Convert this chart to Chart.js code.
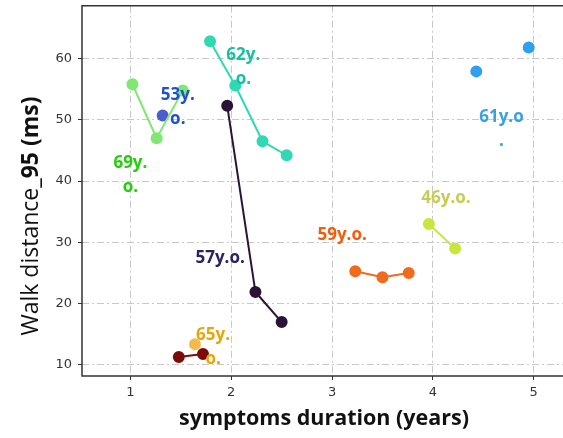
<!DOCTYPE html>
<html><head><meta charset="utf-8">
<script src="https://cdn.jsdelivr.net/npm/chart.js@4"></script>
<style>html,body{margin:0;padding:0;background:#fff;overflow:hidden}#wrap{width:563px;height:438px;overflow:hidden;position:relative}#c{position:absolute;left:0;top:-8px}</style>
</head><body><div id="wrap"><canvas id="c" width="572" height="446"></canvas></div>
<script>
// series: symptoms duration (years) and Walk distance_95 (ms)
const s69x = [1.02, 1.26, 1.52];  const s69y = [55.8, 47.0, 54.8];
const s53x = [1.32];              const s53y = [50.7];
const s62x = [1.79, 2.04, 2.31, 2.55]; const s62y = [62.8, 55.6, 46.5, 44.2];
const s57x = [1.96, 2.24, 2.50];  const s57y = [52.3, 21.9, 17.0];
const s65x = [1.64];              const s65y = [13.4];
const sRedx = [1.48, 1.72];       const sRedy = [11.3, 11.8];
const s59x = [3.23, 3.50, 3.76];  const s59y = [25.3, 24.3, 25.0];
const s46x = [3.96, 4.22];        const s46y = [33.0, 29.0];
const s61x = [4.43, 4.95];        const s61y = [57.9, 61.8];
const xTicks = [1, 2, 3, 4, 5];
const yTicks = [10, 20, 30, 40, 50, 60];

const ageLabels = [
  {lines:['69y.','o.'], x:1.0, y:42.9, color:'#27cc0e'},
  {lines:['53y.','o.'], x:1.47, y:54.0, color:'#1f50cf'},
  {lines:['62y.','o.'], x:2.12, y:60.5, color:'#17c0a0'},
  {lines:['57y.o.'], x:1.89, y:27.4, color:'#2b2360'},
  {lines:['65y.','o.'], x:1.82, y:14.8, color:'#e6a70a'},
  {lines:['59y.o.'], x:3.10, y:31.1, color:'#f25d0c'},
  {lines:['46y.o.'], x:4.13, y:37.2, color:'#c8cc55'},
  {lines:['61y.o','.'], x:4.68, y:50.4, color:'#3b9fe0'}
];

function pts(xs, ys){ return xs.map((x,i)=>({x:x, y:ys[i]})); }
function ds(xs, ys, color, line){
  return {data:pts(xs,ys), borderColor:color, backgroundColor:color, pointBackgroundColor:color,
    pointBorderColor:color, pointRadius:5, pointHoverRadius:5, borderWidth:2, showLine:line};
}

const labelPlugin = {
  id:'labels',
  afterDatasetsDraw(chart){
    const c = chart.ctx, xs = chart.scales.x, ys = chart.scales.y;
    c.save();
    c.font = 'bold 17px "Open Sans"';
    c.textAlign = 'center'; c.textBaseline = 'middle';
    ageLabels.forEach(l=>{
      c.fillStyle = l.color;
      const px = xs.getPixelForValue(l.x), py = ys.getPixelForValue(l.y);
      l.lines.forEach((t,i)=>c.fillText(t, px, py + i*24));
    });
    c.restore();
  }
};
const framePlugin = {
  id:'frame',
  afterDraw(chart){
    const c = chart.ctx, a = chart.chartArea;
    c.save();
    c.strokeStyle = '#333'; c.lineWidth = 1.5;
    c.beginPath();
    c.moveTo(a.right+4, a.top); c.lineTo(a.left, a.top); c.lineTo(a.left, a.bottom); c.lineTo(a.right+4, a.bottom);
    c.stroke();
    // axis titles
    c.fillStyle = '#111';
    c.font = 'bold 21.5px "Open Sans"';
    c.textAlign = 'center'; c.textBaseline = 'middle';
    c.fillText('symptoms duration (years)', 324, 427);
    c.translate(31, 224);
    c.rotate(-Math.PI/2);
    const p1 = 'Walk distance', p2 = '_95 (ms)';
    c.font = '23px "Open Sans"'; const w1 = c.measureText(p1).width;
    c.font = 'bold 23px "Open Sans"'; const w2 = c.measureText(p2).width;
    const start = -(w1 + w2)/2;
    c.textAlign = 'left';
    c.font = '23px "Open Sans"'; c.fillText(p1, start, 0);
    c.font = 'bold 23px "Open Sans"'; c.fillText(p2, start + w1, 0);
    c.restore();
  }
};

const gridOpts = {color:'#c8c8c8', lineWidth:1, drawTicks:true, tickLength:4, tickColor:'#333'};
new Chart(document.getElementById('c'), {
  type:'scatter',
  data:{datasets:[
    ds(s69x,s69y,'#7ee873',true),
    ds(s53x,s53y,'#4a5fcc',false),
    ds(s62x,s62y,'#2fd9b2',true),
    ds(s57x,s57y,'#2a1336',true),
    ds(s65x,s65y,'#f6ba4c',false),
    ds(sRedx,sRedy,'#7b0b0b',true),
    ds(s59x,s59y,'#f26b1d',true),
    ds(s46x,s46y,'#c9e63e',true),
    ds(s61x,s61y,'#2f9ff0',false)
  ]},
  options:{
    responsive:false, animation:false, events:[],
    layout:{padding:{left:0, top:5, right:0, bottom:0}},
    plugins:{legend:{display:false}, tooltip:{enabled:false}},
    scales:{
      x:{type:'linear', min:0.52, max:5.31,
        afterBuildTicks(s){ s.ticks = xTicks.map(v=>({value:v})); },
        afterFit(s){ s.height = 62; },
        border:{display:false, dash:[7,3,2,3]},
        grid:gridOpts,
        ticks:{font:{family:'DejaVu Sans', size:13}, color:'#333', padding:5, maxRotation:0}},
      y:{type:'linear', min:8.2, max:68.6,
        afterBuildTicks(s){ s.ticks = yTicks.map(v=>({value:v})); },
        afterFit(s){ s.width = 82; },
        border:{display:false, dash:[7,3,2,3]},
        grid:gridOpts,
        ticks:{font:{family:'DejaVu Sans', size:13}, color:'#333', padding:6}}
    }
  },
  plugins:[labelPlugin, framePlugin]
});
</script></body></html>
